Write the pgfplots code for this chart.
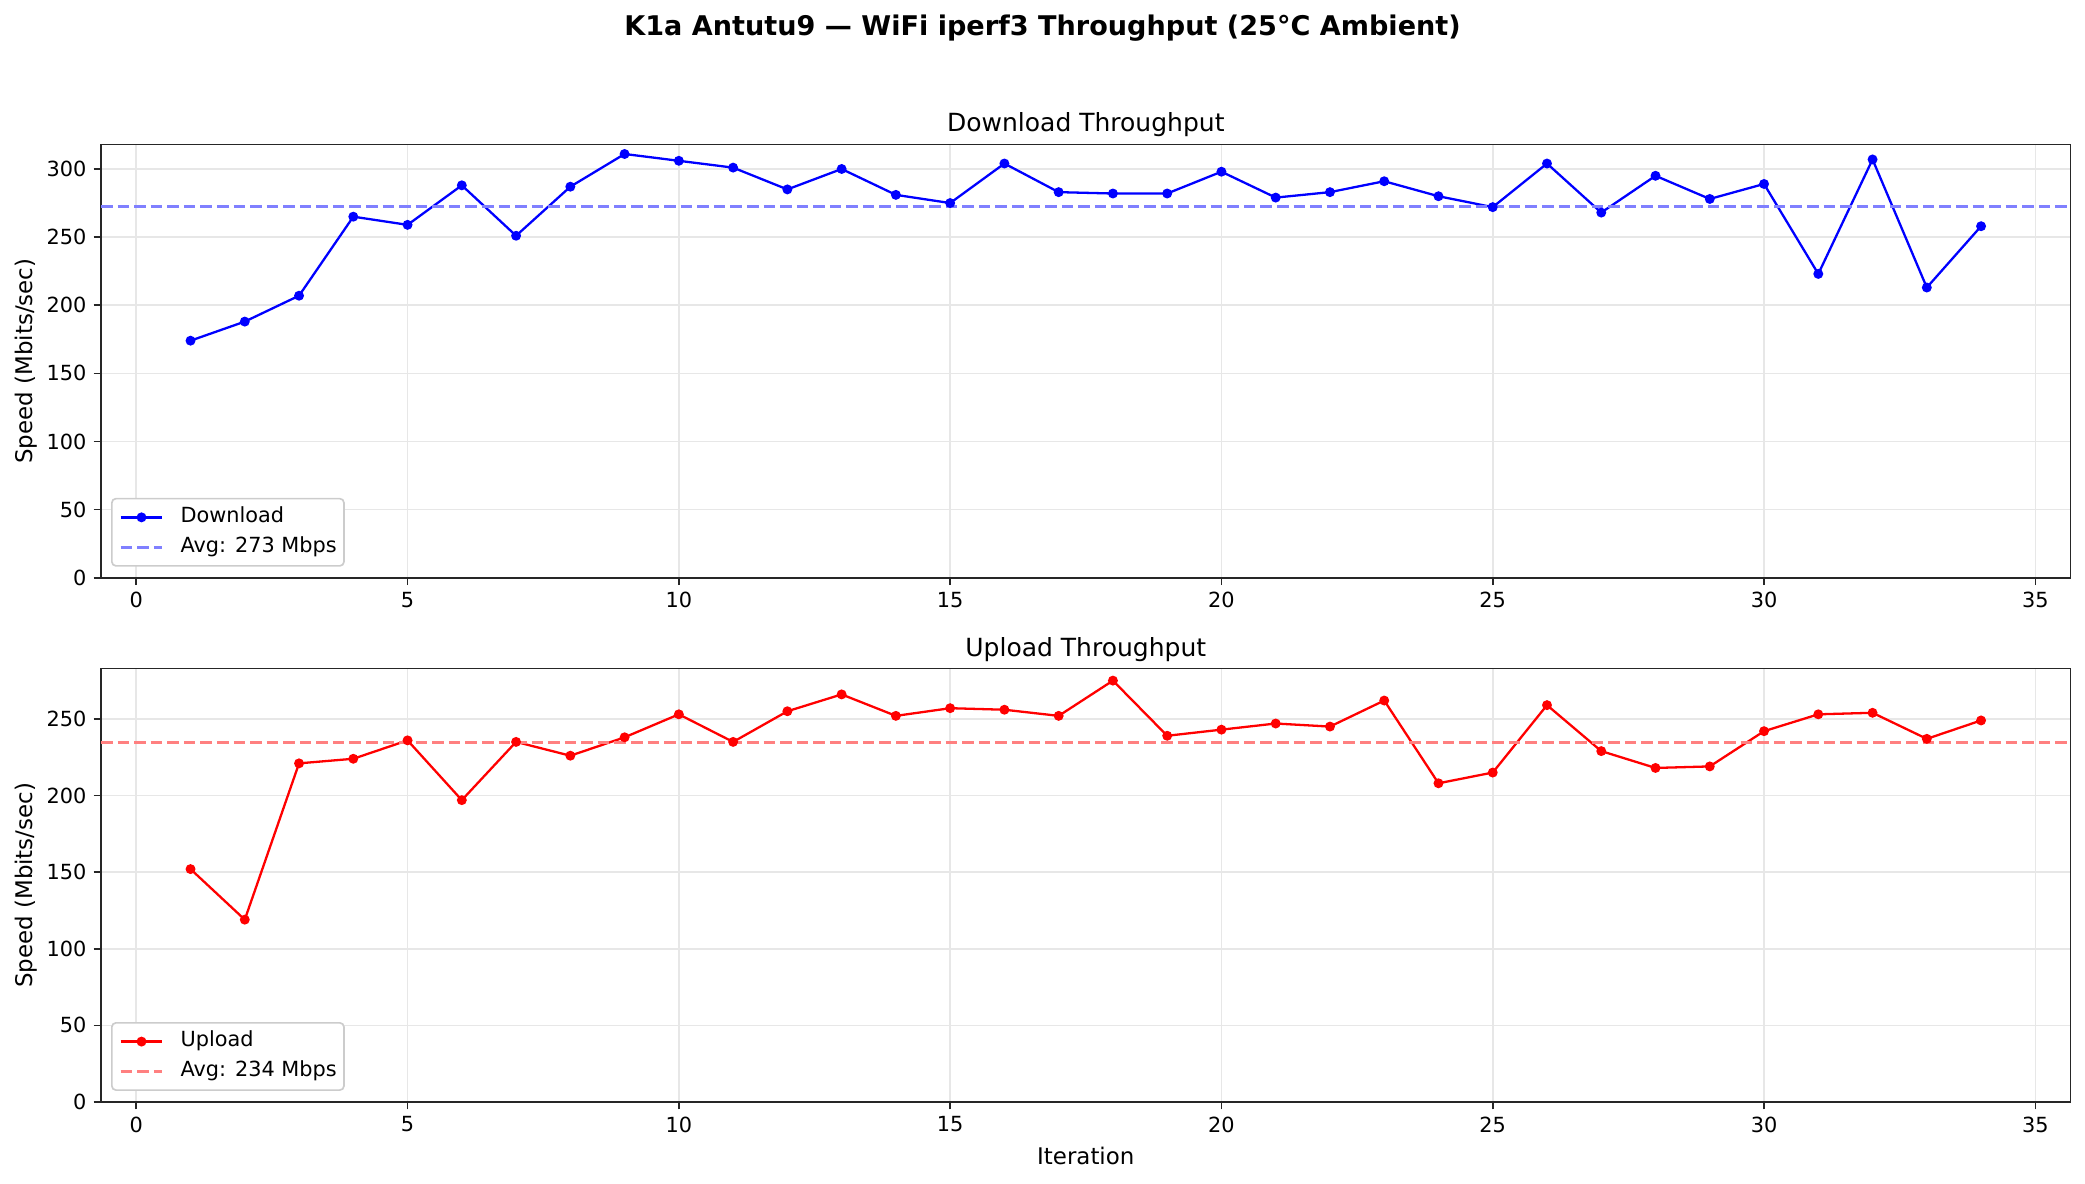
\documentclass[border=0pt]{standalone}
\usepackage{pgfplots}
\pgfplotsset{compat=1.18}
\usepackage{fontspec}
\setmainfont{DejaVu Sans}
\definecolor{gridc}{HTML}{E7E7E7}
\definecolor{avgblue}{rgb}{0.5,0.5,1}
\definecolor{avgred}{rgb}{1,0.5,0.5}
\definecolor{legframe}{HTML}{CCCCCC}
\pgfplotstableread{
x y
1 174
2 188
3 207
4 265
5 259
6 288
7 251
8 287
9 311
10 306
11 301
12 285
13 300
14 281
15 275
16 304
17 283
18 282
19 282
20 298
21 279
22 283
23 291
24 280
25 272
26 304
27 268
28 295
29 278
30 289
31 223
32 307
33 213
34 258
}\down
\pgfplotstableread{
x y
1 152
2 119
3 221
4 224
5 236
6 197
7 235
8 226
9 238
10 253
11 235
12 255
13 266
14 252
15 257
16 256
17 252
18 275
19 239
20 243
21 247
22 245
23 262
24 208
25 215
26 259
27 229
28 218
29 219
30 242
31 253
32 254
33 237
34 249
}\up
\pgfplotsset{myax/.style={
  scale only axis, width=945.4pt, height=208pt,
  xmin=-0.65, xmax=35.65, ymin=0,
  xtick={0,5,...,35},
  grid=major, major grid style={color=gridc, line width=0.8pt},
  axis line style={line width=0.8pt, black!85},
  tick align=outside, xtick pos=bottom, ytick pos=left,
  major tick length=3.5pt, tick style={line width=0.8pt, black!85},
  ticklabel style={font=\fontsize{10}{12}\selectfont},
  /pgf/number format/assume math mode=true,
  label style={font=\fontsize{11}{13}\selectfont},
  ylabel style={yshift=-2.5pt},
  title style={font=\fontsize{12}{14}\selectfont, at={(0.5,1)}, anchor=base, yshift=0pt},
  ylabel={Speed (Mbits/sec)},
  scaled ticks=false,
  legend cell align=left,
  legend style={at={(0,0)}, anchor=south west, xshift=4.8pt, yshift=5.3pt,
    draw=legframe, fill=white, rounded corners=2pt, line width=0.8pt,
    font=\fontsize{10}{12}\selectfont, inner xsep=3.5pt, inner ysep=2pt,
    column sep=8pt, row sep=0.3pt,
    nodes={inner xsep=0pt, inner ysep=2pt, text height=7.5pt, text depth=2.5pt}},
  legend image code/.code={\draw[mark repeat=2,mark phase=2] plot coordinates {(0pt,0pt) (10pt,0pt) (20pt,0pt)};},
}}
\begin{document}
\begin{tikzpicture}
\useasboundingbox (0pt,0pt) rectangle (1000.8pt,567.84pt);
\node[font=\fontsize{13}{16}\selectfont\bfseries, anchor=base] at (500.4pt,551pt) {K1a Antutu9 — WiFi iperf3 Throughput (25°C Ambient)};
\begin{axis}[myax, at={(48.48pt,290.5pt)}, anchor=south west, ymax=318, ytick={0,50,...,300},
  title={Download Throughput}]
\addplot[color=blue, line width=1.1pt, mark=*, mark size=1.8pt] table[x=x,y=y] {\down};
\addlegendentry{Download}
\addplot[color=avgblue, line width=1.5pt, dash pattern=on 5.55pt off 2.4pt] coordinates {(-0.65,272.6) (35.65,272.6)};
\addlegendentry{Avg: 273 Mbps}
\end{axis}
\begin{axis}[myax, at={(48.48pt,38.88pt)}, anchor=south west, ymax=282.8, ytick={0,50,...,250},
  title={Upload Throughput}, xlabel={Iteration}]
\addplot[color=red, line width=1.1pt, mark=*, mark size=1.8pt] table[x=x,y=y] {\up};
\addlegendentry{Upload}
\addplot[color=avgred, line width=1.5pt, dash pattern=on 5.55pt off 2.4pt] coordinates {(-0.65,234.4) (35.65,234.4)};
\addlegendentry{Avg: 234 Mbps}
\end{axis}
\end{tikzpicture}
\end{document}
